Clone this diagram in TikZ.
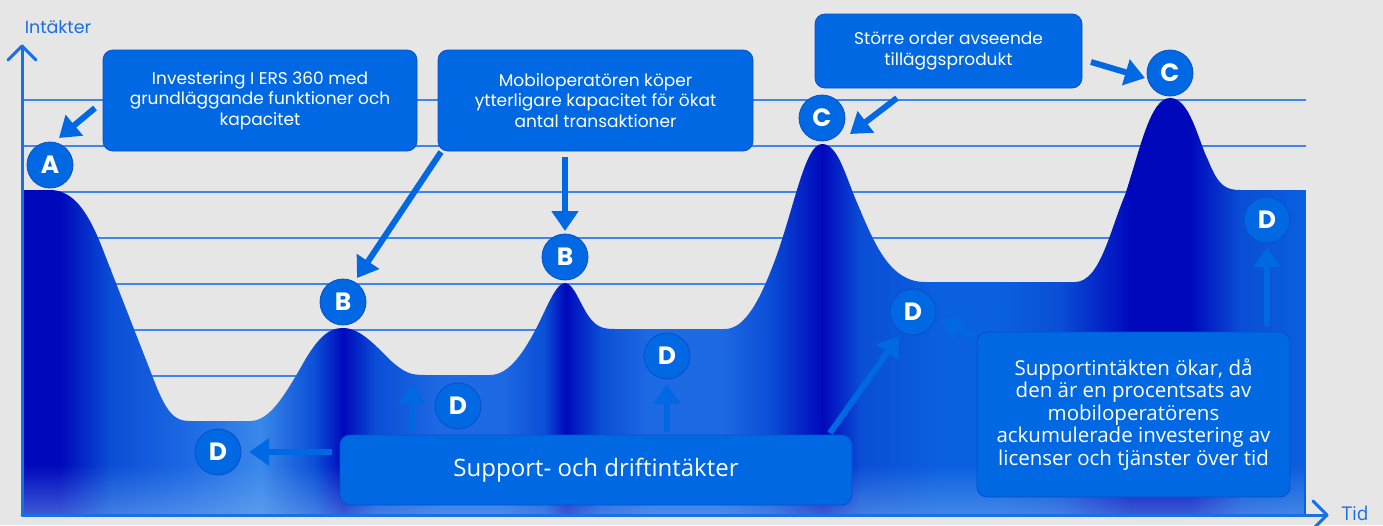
\documentclass[tikz,border=0pt]{standalone}
\usepackage{fontspec}
\setmainfont{Poppins}
\newfontfamily\opensans{Open Sans}
\usetikzlibrary{arrows.meta,fadings}
\definecolor{bg}{HTML}{E6E6E6}
\definecolor{axisblue}{HTML}{1A6FE3}
\definecolor{glines}{HTML}{3F86EA}
\definecolor{boxblue}{HTML}{0068E2}
\definecolor{boxedge}{HTML}{0A4FC8}
\definecolor{dk}{HTML}{0008BC}
\definecolor{md}{HTML}{0A4ED6}
\definecolor{ml}{HTML}{1E6AE4}
\definecolor{lt}{HTML}{3A88EA}
\definecolor{mb}{HTML}{0A60E0}
\definecolor{fadeblue}{HTML}{7AB0F2}
\tikzfading[name=fadeup, top color=transparent!100, bottom color=transparent!0]
\tikzset{
  note/.style={draw=boxedge, fill=boxblue, rounded corners=10pt, line width=0.8pt,
    text=white, align=center, inner sep=0pt},
  lett/.style={circle, fill=boxblue, draw=boxedge, line width=0.8pt, minimum size=46pt,
    inner sep=0pt, text=white, font=\fontsize{25}{25}\selectfont\bfseries},
  barrow/.style={draw=boxblue, line width=6pt, -{Triangle[width=26pt,length=20pt]}},
  gridline/.style={draw=glines, line width=2pt},
  axisline/.style={draw=axisblue, line width=3pt, line cap=round, line join=round},
  boxtext/.style={font=\fontsize{17}{20.5}\selectfont}
}
\begin{document}
\begin{tikzpicture}[x=1pt,y=-1pt]
\fill[bg] (0,0) rectangle (1383,525);
\useasboundingbox (0,0) rectangle (1383,525);
% grid
\foreach \yy in {99.5,145.5,...,467.5}
  \draw[gridline] (22,\yy) -- (1306,\yy);
% mountain
\begin{scope}
\clip (22,190) -- (50,190) .. controls (75,190) and (90,215) .. (105,255) -- (150,370)
  .. controls (165,410) and (172,421) .. (190,421) -- (250,421)
  .. controls (270,421) and (285,395) .. (305,360) .. controls (320,335) and (330,328) .. (343,328)
  .. controls (360,328) and (375,345) .. (390,360) .. controls (405,373) and (410,375) .. (425,375)
  -- (490,375) .. controls (510,375) and (525,350) .. (538,325)
  .. controls (550,300) and (557,283) .. (565,283) .. controls (574,283) and (580,305) .. (590,318)
  .. controls (597,327) and (603,329) .. (615,329) -- (725,329)
  .. controls (745,329) and (760,300) .. (775,260) .. controls (795,205) and (805,144) .. (822,144)
  .. controls (838,144) and (845,175) .. (858,205) .. controls (875,245) and (890,282) .. (925,282)
  -- (1075,282) .. controls (1100,282) and (1110,230) .. (1125,195)
  .. controls (1140,150) and (1150,98) .. (1170,98) .. controls (1190,98) and (1198,140) .. (1208,160)
  .. controls (1218,185) and (1225,190) .. (1240,190) -- (1306,190) -- (1306,515) -- (22,515) -- cycle;
\foreach \xa/\xb/\ca/\cb in {22/60/dk/dk, 60/110/dk/md, 110/190/md/ml, 190/260/ml/lt, 260/315/lt/md,
  315/343/md/dk, 343/375/dk/md, 375/440/md/ml, 440/500/ml/ml, 500/545/ml/md, 545/565/md/dk,
  565/600/dk/md, 600/650/md/ml, 650/720/ml/ml, 720/770/ml/md, 770/822/md/dk, 822/860/dk/md,
  860/940/md/mb, 940/1000/mb/mb, 1000/1060/mb/md, 1060/1130/md/dk, 1130/1190/dk/dk,
  1190/1240/dk/md, 1240/1306/md/mb}
  \shade[left color=\ca, right color=\cb] (\xa,0) rectangle (\xb+0.7,525);
\fill[fadeblue, path fading=fadeup, opacity=0.5] (22,465) rectangle (1306,515);
\end{scope}
% axes
\draw[axisline] (22,515) -- (22,46);
\draw[axisline] (8,60) -- (22,46) -- (36,60);
\draw[axisline] (22,515) -- (1327,515);
\draw[axisline] (1313,501) -- (1327,515) -- (1313,529);
\node[text=axisblue, font=\fontsize{17.5}{17.5}\selectfont] (ylab) at (58,27) {Intäkter};
\node[text=axisblue, font=\opensans\fontsize{19}{19}\selectfont] (xlab) at (1355,513) {Tid};
% boxes
\node[note, minimum width=314pt, minimum height=101pt, boxtext] (bA) at (260,100.5)
  {Investering I ERS 360 med\\grundläggande funktioner och\\kapacitet};
\node[note, minimum width=315pt, minimum height=101pt, boxtext] (bB) at (595.5,100.5)
  {Mobiloperatören köper\\ytterligare kapacitet för ökat\\antal transaktioner};
\node[note, minimum width=267pt, minimum height=74pt, boxtext] (bC) at (948.5,51)
  {Större order avseende\\tilläggsprodukt};
\node[note, minimum width=512pt, minimum height=70pt, font=\opensans\fontsize{24}{28}\selectfont] (bS) at (596,470)
  {Support- och driftintäkter};
\node[note, minimum width=313pt, minimum height=165pt, font=\opensans\fontsize{20.5}{22.5}\selectfont] (bR) at (1133.5,414.5)
  {Supportintäkten ökar, då\\den är en procentsats av\\mobiloperatörens\\ackumulerade investering av\\licenser och tjänster över tid};
% letters
\node[lett] (A) at (50,165) {A};
\node[lett] (B1) at (343,302) {B};
\node[lett] (B2) at (565,257) {B};
\node[lett] (C1) at (822,118) {C};
\node[lett] (C2) at (1170,73) {C};
\node[lett] (D1) at (218,452) {D};
\node[lett] (D2) at (458,406) {D};
\node[lett] (D3) at (667,356) {D};
\node[lett] (D4) at (913,312) {D};
\node[lett] (D5) at (1267,220) {D};
% arrow ends
\coordinate (tA) at (95,108);   \coordinate (hA) at (59,138);
\coordinate (tB1) at (441,152); \coordinate (hB1) at (357,278);
\coordinate (tB2) at (565,157); \coordinate (hB2) at (565,231);
\coordinate (tC1) at (897,98);  \coordinate (hC1) at (850,134);
\coordinate (tC2) at (1091,62); \coordinate (hC2) at (1145,78);
\coordinate (tD1) at (332,452); \coordinate (hD1) at (249,452);
\coordinate (tD2) at (412,432); \coordinate (hD2) at (412,384);
\coordinate (tD3) at (667,432); \coordinate (hD3) at (667,384);
\coordinate (tD4) at (830,433); \coordinate (hD4) at (899,336);
\coordinate (tD4b) at (975,337); \coordinate (hD4b) at (941,320);
\coordinate (tD5) at (1267,326); \coordinate (hD5) at (1267,247);
\foreach \n in {A,B1,B2,C1,C2,D1,D2,D3,D4,D4b,D5}
  \draw[barrow] (t\n) -- (h\n);
\end{tikzpicture}
\end{document}
